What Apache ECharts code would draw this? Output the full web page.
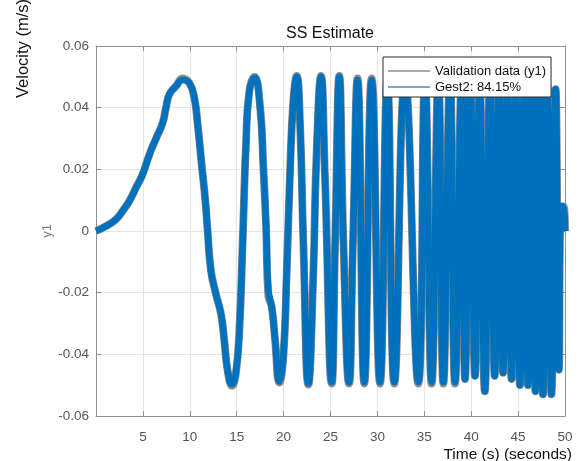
<!DOCTYPE html>
<html>
<head>
<meta charset="utf-8">
<script src="https://cdn.jsdelivr.net/npm/echarts@6/dist/echarts.min.js"></script>
<style>
html,body{margin:0;padding:0;background:#fff;}
#chart{width:579px;height:461px;}
</style>
</head>
<body>
<div id="chart"></div>
<script>
// ---- data ----
var timeS = [0,1.07,2.13,2.84,3.55,4.26,4.97,5.69,6.4,7.1,7.46,7.82,8.53,9.24,9.95,10.48,10.84,11.3,11.66,11.9,
  12.26,12.79,13.33,13.68,14.04,14.5,14.9,15.28,15.64,16.0,16.35,16.9,17.5,17.84,18.13,18.37,18.73,19.08,19.55,19.97,
  20.33,20.68,21.04,21.4,21.75,22.1,22.64,23.17,23.5,23.99,24.4,25.13,25.5,25.94,26.37,26.97,27.4,27.88,28.6,29.39,
  30.28,31.06,31.8,32.94,34.36,35.07,35.78,36.5,37.03,37.74,38.27,38.98,39.34,39.9,40.4,40.9,41.45,42.0,42.5,42.95,
  43.4,43.85,44.3,44.75,45.2,45.65,46.05,46.45,46.85,47.25,47.65,48.1,48.55,49.0,49.35,49.6,49.85,50];
var gest2 = [0,0.0016,0.0038,0.0065,0.0097,0.014,0.0184,0.0248,0.030,0.035,0.040,0.0443,0.047,0.049,0.048,0.0432,0.0346,0.0205,0.0097,0,
  -0.013,-0.0205,-0.027,-0.0356,-0.0454,-0.0497,-0.0464,-0.0324,-0.0032,0.029,0.0454,0.0497,0.040,0.0208,0.0014,-0.019,-0.0245,-0.035,-0.0488,-0.041,
  -0.0137,0.0187,0.0424,0.050,0.035,-0.003,-0.0494,-0.0137,0.024,0.050,0.0187,-0.049,-0.003,0.050,-0.003,-0.049,-0.003,0.049,-0.049,0.049,
  -0.049,0.049,-0.049,0.049,-0.049,0.049,-0.049,0.049,-0.049,0.049,-0.049,0.049,-0.048,0.049,-0.047,0.049,-0.052,0.049,-0.047,0.049,
  -0.046,0.049,-0.048,0.049,-0.050,0.049,-0.050,0.049,-0.052,0.049,-0.053,0.048,-0.053,0.046,-0.045,0.008,0.008,0];
var validation = [0,0.0016,0.0038,0.0065,0.0097,0.014,0.0184,0.0248,0.030,0.035,0.040,0.0443,0.047,0.0495,0.048,0.0432,0.0346,0.0205,0.0097,0,
  -0.013,-0.0205,-0.027,-0.0356,-0.0454,-0.0502,-0.0464,-0.0324,-0.0032,0.029,0.0454,0.050,0.040,0.0208,0.0014,-0.021,-0.0245,-0.035,-0.0492,-0.041,
  -0.0137,0.0187,0.0424,0.0503,0.035,-0.003,-0.0498,-0.0137,0.024,0.0503,0.0187,-0.0495,-0.003,0.0503,-0.003,-0.0495,-0.003,0.0495,-0.0495,0.0495,
  -0.0495,0.0495,-0.0495,0.0495,-0.0495,0.0495,-0.0495,0.0495,-0.0495,0.0495,-0.0495,0.0495,-0.048,0.049,-0.047,0.049,-0.052,0.049,-0.047,0.049,
  -0.046,0.049,-0.048,0.049,-0.050,0.049,-0.050,0.049,-0.052,0.049,-0.053,0.048,-0.053,0.046,-0.045,0.008,0.008,0];
var xTicks = [0,5,10,15,20,25,30,35,40,45,50];
var yTicks = [-0.06,-0.04,-0.02,0,0.02,0.04,0.06];
var seriesNames = ['Validation data (y1)','Gest2: 84.15%'];
var titleText = 'SS Estimate';
var xName = 'Time (s) (seconds)';
var yName = 'Velocity (m/s)';
var yChannel = 'y1';

// ---- chart ----
var FONT = '"Liberation Sans", Arial, Helvetica, sans-serif';
function pairs(t, v){ var out=[]; for(var i=0;i<t.length;i++){ out.push([t[i], v[i]]); } return out; }
var axisCol = '#8f8f8f', labelCol = '#555555', gridCol = '#e4e4e4';

var chart = echarts.init(document.getElementById('chart'), null, {renderer:'canvas'});
chart.setOption({
  animation:false,
  backgroundColor:'#ffffff',
  grid:{left:96, right:14, top:46, bottom:45, containLabel:false, outerBoundsMode:'none'},
  xAxis:[{
    type:'value', min:xTicks[0], max:xTicks[xTicks.length-1], interval:5,
    axisLine:{show:true, onZero:false, lineStyle:{color:axisCol, width:1}},
    axisTick:{show:true, inside:true, length:5, lineStyle:{color:axisCol}},
    splitLine:{show:true, lineStyle:{color:gridCol, width:1}},
    axisLabel:{color:labelCol, fontSize:13.5, fontFamily:FONT, margin:14,
      formatter:function(v){ return v===0 ? '' : String(v); }}
  },{
    type:'value', position:'top', min:xTicks[0], max:xTicks[xTicks.length-1], interval:5,
    axisLine:{show:true, onZero:false, lineStyle:{color:axisCol, width:1}},
    axisTick:{show:true, inside:true, length:5, lineStyle:{color:axisCol}},
    splitLine:{show:false}, axisLabel:{show:false}
  }],
  yAxis:[{
    type:'value', min:yTicks[0], max:yTicks[yTicks.length-1], interval:0.02,
    axisLine:{show:true, onZero:false, lineStyle:{color:axisCol, width:1}},
    axisTick:{show:true, inside:true, length:5, lineStyle:{color:axisCol}},
    splitLine:{show:true, lineStyle:{color:gridCol, width:1}},
    axisLabel:{color:labelCol, fontSize:13.5, fontFamily:FONT, margin:7,
      formatter:function(v){ var r=Math.round(v*100)/100; return r===0 ? '0' : String(r); }}
  },{
    type:'value', position:'right', min:yTicks[0], max:yTicks[yTicks.length-1], interval:0.02,
    axisLine:{show:true, onZero:false, lineStyle:{color:axisCol, width:1}},
    axisTick:{show:true, inside:true, length:5, lineStyle:{color:axisCol}},
    splitLine:{show:false}, axisLabel:{show:false}
  }],
  legend:{
    orient:'vertical', left:383, top:57,
    backgroundColor:'#ffffff', borderColor:'#2a2a2a', borderWidth:1, borderRadius:0,
    padding:[7,5,3,5], itemGap:2, itemWidth:42, itemHeight:1.5,
    textStyle:{fontSize:13, color:'#111', fontFamily:FONT, lineHeight:14},
    data:[{name:seriesNames[0], icon:'rect', itemStyle:{color:'#8c8c8c'}},
          {name:seriesNames[1], icon:'rect', itemStyle:{color:'#3d8fd1'}}]
  },
  series:[{
    name:seriesNames[0], type:'line', data:pairs(timeS, validation),
    showSymbol:false, symbol:'none', smooth:0.5,
    lineStyle:{color:'#8a8a8a', width:7.8}, z:2
  },{
    name:seriesNames[1], type:'line', data:pairs(timeS, gest2),
    showSymbol:false, symbol:'none', smooth:0.5,
    lineStyle:{color:'#0072BD', width:6.5}, z:3
  }],
  graphic:[
    {type:'text', x:330, y:34, style:{text:titleText, fill:'#111', font:'16px '+FONT, align:'center', verticalAlign:'middle', textAlign:'center', textVerticalAlign:'middle'}},
    {type:'text', x:572, y:455, style:{text:xName, fill:'#111', font:'15.5px '+FONT, align:'right', verticalAlign:'middle', textAlign:'right', textVerticalAlign:'middle'}},
    {type:'text', x:23, y:98, rotation:Math.PI/2, style:{text:yName, fill:'#111', font:'16.5px '+FONT, align:'left', verticalAlign:'middle', textAlign:'left', textVerticalAlign:'middle'}},
    {type:'text', x:47, y:231, rotation:Math.PI/2, style:{text:yChannel, fill:'#808080', font:'13px '+FONT, align:'center', verticalAlign:'middle', textAlign:'center', textVerticalAlign:'middle'}}
  ]
});
</script>
</body>
</html>
